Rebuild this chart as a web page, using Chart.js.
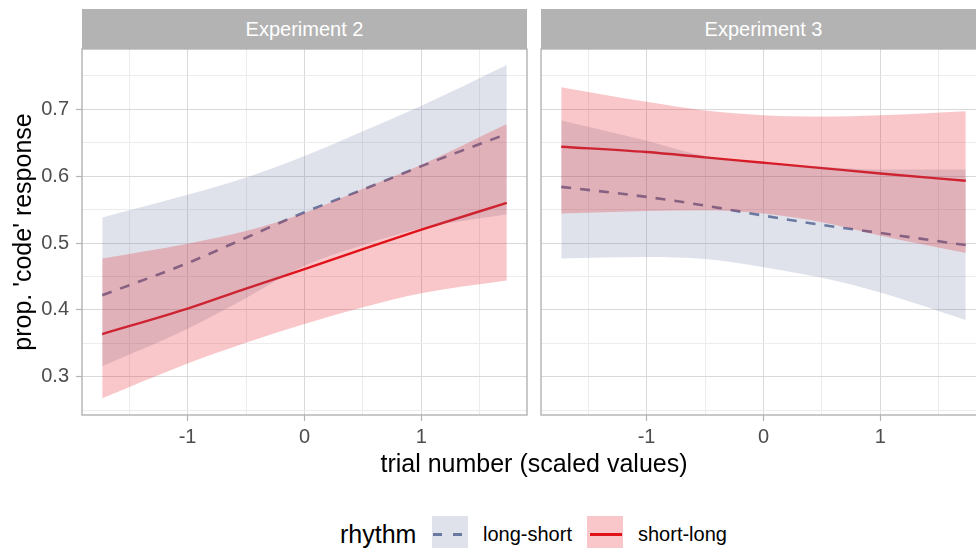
<!DOCTYPE html>
<html>
<head>
<meta charset="utf-8">
<script src="https://cdn.jsdelivr.net/npm/chart.js@4.4.1/dist/chart.umd.min.js"></script>
<style>
  html, body { margin: 0; padding: 0; background: #ffffff; }
  #wrap { position: relative; width: 976px; height: 548px; overflow: hidden;
          font-family: "Liberation Sans", Arial, Helvetica, sans-serif; }
  canvas { position: absolute; top: 0; }
  .strip { position: absolute; top: 9px; height: 40px; background: #b3b3b3; color: #ffffff;
           font-size: 20px; line-height: 40px; text-align: center; }
  .title { position: absolute; font-size: 25px; line-height: 30px; color: #000; white-space: nowrap; text-align: center; }
  .ltext { position: absolute; top: 519px; font-size: 20px; line-height: 30px; color: #000; white-space: nowrap; }
  .key { position: absolute; top: 516px; width: 36px; height: 37px; }
  .seg { position: absolute; top: 17px; height: 2.5px; }
</style>
</head>
<body>
<div id="wrap">
  <canvas id="exp2" width="540" height="470" style="left:0px"></canvas>
  <canvas id="exp3" width="470" height="470" style="left:530px"></canvas>

  <div class="strip" style="left:82px;width:445px">Experiment 2</div>
  <div class="strip" style="left:541px;width:445px">Experiment 3</div>

  <div class="title" style="left:234px;top:448px;width:600px">trial number (scaled values)</div>
  <div class="title" style="left:-128px;top:217px;width:300px;transform:rotate(-90deg)">prop. 'code' response</div>

  <div class="title" style="left:340px;top:519px;text-align:left">rhythm</div>
  <div class="key" style="left:432px;background:rgba(108,124,162,0.22)">
    <div class="seg" style="left:1px;width:8.5px;background:#6a79a0"></div>
    <div class="seg" style="left:21px;width:8.5px;background:#6a79a0"></div>
  </div>
  <span class="ltext" style="left:483px">long-short</span>
  <div class="key" style="left:587px;background:rgba(228,20,28,0.24)">
    <div class="seg" style="left:3px;width:32px;background:#e0121a"></div>
  </div>
  <span class="ltext" style="left:638px">short-long</span>
</div>

<script>
// scaled trial number at which the model predictions are read
const trialX = [-1.73, -1, -0.5, 0, 0.5, 1, 1.73];

// Experiment 2: predicted proportion of 'code' responses with 95% band
const exp2LongShortFit   = [0.422, 0.470, 0.508, 0.546, 0.580, 0.615, 0.663];
const exp2LongShortUpper = [0.538, 0.572, 0.598, 0.630, 0.667, 0.705, 0.766];
const exp2LongShortLower = [0.316, 0.372, 0.418, 0.466, 0.497, 0.522, 0.543];
const exp2ShortLongFit   = [0.364, 0.402, 0.432, 0.461, 0.491, 0.520, 0.560];
const exp2ShortLongUpper = [0.477, 0.499, 0.518, 0.545, 0.581, 0.617, 0.678];
const exp2ShortLongLower = [0.268, 0.320, 0.351, 0.379, 0.404, 0.425, 0.444];

// Experiment 3
const exp3LongShortFit   = [0.584, 0.569, 0.556, 0.541, 0.527, 0.515, 0.497];
const exp3LongShortUpper = [0.683, 0.653, 0.630, 0.620, 0.614, 0.610, 0.610];
const exp3LongShortLower = [0.477, 0.479, 0.476, 0.464, 0.448, 0.426, 0.385];
const exp3ShortLongFit   = [0.644, 0.636, 0.628, 0.620, 0.612, 0.604, 0.593];
const exp3ShortLongUpper = [0.733, 0.711, 0.698, 0.691, 0.689, 0.691, 0.697];
const exp3ShortLongLower = [0.544, 0.548, 0.549, 0.544, 0.531, 0.511, 0.485];

// axis breaks (major ones carry labels, the rest are minor grid lines)
const xBreaks = [-1.5, -1, -0.5, 0, 0.5, 1, 1.5];
const xLabels = [-1, 0, 1];
const yBreaks = [0.25, 0.3, 0.35, 0.4, 0.45, 0.5, 0.55, 0.6, 0.65, 0.7, 0.75];
const yLabels = [0.3, 0.4, 0.5, 0.6, 0.7];

const COL_LS = '#6a79a0';
const COL_SL = '#e0121a';
const FILL_LS = 'rgba(108,124,162,0.22)';
const FILL_SL = 'rgba(228,20,28,0.24)';

Chart.defaults.font.family = '"Liberation Sans", Arial, Helvetica, sans-serif';

const near = (a, list) => list.some(v => Math.abs(v - a) < 1e-6);
const pts = ys => trialX.map((x, i) => ({ x: x, y: ys[i] }));

// grey frame around each facet panel
const panelBorder = {
  id: 'panelBorder',
  afterDraw(chart) {
    const { ctx, chartArea: a } = chart;
    ctx.save();
    ctx.strokeStyle = '#b3b3b3';
    ctx.lineWidth = 1.4;
    ctx.strokeRect(a.left, a.top, a.right - a.left, a.bottom - a.top);
    ctx.restore();
  }
};

function facet(canvasId, d, withYLabels) {
  const band = (data, fill) => ({
    data: pts(data), borderWidth: 0, pointRadius: 0, backgroundColor: fill,
    cubicInterpolationMode: 'monotone'
  });
  const datasets = [
    // ribbons are painted over the fitted lines, short-long on top
    Object.assign(band(d.slU, FILL_SL), { fill: 1, order: 0 }),
    Object.assign(band(d.slL, FILL_SL), { fill: false, order: 0 }),
    Object.assign(band(d.lsU, FILL_LS), { fill: 3, order: 1 }),
    Object.assign(band(d.lsL, FILL_LS), { fill: false, order: 1 }),
    { label: 'short-long', data: pts(d.slF), borderColor: COL_SL, borderWidth: 2.4,
      pointRadius: 0, fill: false, order: 2, cubicInterpolationMode: 'monotone' },
    { label: 'long-short', data: pts(d.lsF), borderColor: COL_LS, borderWidth: 2.6,
      borderDash: [10, 9], pointRadius: 0, fill: false, order: 3, cubicInterpolationMode: 'monotone' }
  ];

  return new Chart(document.getElementById(canvasId), {
    type: 'line',
    data: { datasets },
    plugins: [panelBorder],
    options: {
      responsive: false,
      animation: false,
      events: [],
      layout: { padding: withYLabels ? { left: 0, top: 49, right: 13, bottom: 0 }
                                      : { left: 0, top: 49, right: 14, bottom: 0 } },
      plugins: { legend: { display: false }, tooltip: { enabled: false } },
      scales: {
        x: {
          type: 'linear', min: -1.903, max: 1.903,
          afterBuildTicks: s => { s.ticks = xBreaks.map(v => ({ value: v })); },
          afterFit: s => { s.height = 55; },
          border: { display: false },
          grid: {
            color: c => (c.tick && near(c.tick.value, xLabels)) ? '#d9d9d9' : '#ececec',
            lineWidth: 1,
            tickLength: 6,
            tickWidth: 1.2,
            tickColor: c => (c.tick && near(c.tick.value, xLabels)) ? '#b3b3b3' : 'rgba(0,0,0,0)'
          },
          ticks: {
            autoSkip: false, maxRotation: 0, padding: 4, color: '#4d4d4d',
            font: { size: 20 },
            callback: v => near(v, xLabels) ? String(Math.round(v)) : ''
          }
        },
        y: {
          type: 'linear', min: 0.243, max: 0.790,
          afterBuildTicks: s => { s.ticks = yBreaks.map(v => ({ value: v })); },
          afterFit: s => { s.width = withYLabels ? 82 : 11; },
          border: { display: false },
          grid: {
            color: c => (c.tick && near(c.tick.value, yLabels)) ? '#d9d9d9' : '#ececec',
            lineWidth: 1,
            drawTicks: withYLabels,
            tickLength: 6,
            tickWidth: 1.2,
            tickColor: c => (c.tick && near(c.tick.value, yLabels)) ? '#b3b3b3' : 'rgba(0,0,0,0)'
          },
          ticks: {
            display: withYLabels,
            autoSkip: false, padding: 7, color: '#4d4d4d',
            font: { size: 20 },
            callback: v => near(v, yLabels) ? v.toFixed(1) : ''
          }
        }
      }
    }
  });
}

facet('exp2', {
  lsF: exp2LongShortFit, lsU: exp2LongShortUpper, lsL: exp2LongShortLower,
  slF: exp2ShortLongFit, slU: exp2ShortLongUpper, slL: exp2ShortLongLower
}, true);

facet('exp3', {
  lsF: exp3LongShortFit, lsU: exp3LongShortUpper, lsL: exp3LongShortLower,
  slF: exp3ShortLongFit, slU: exp3ShortLongUpper, slL: exp3ShortLongLower
}, false);
</script>
</body>
</html>
